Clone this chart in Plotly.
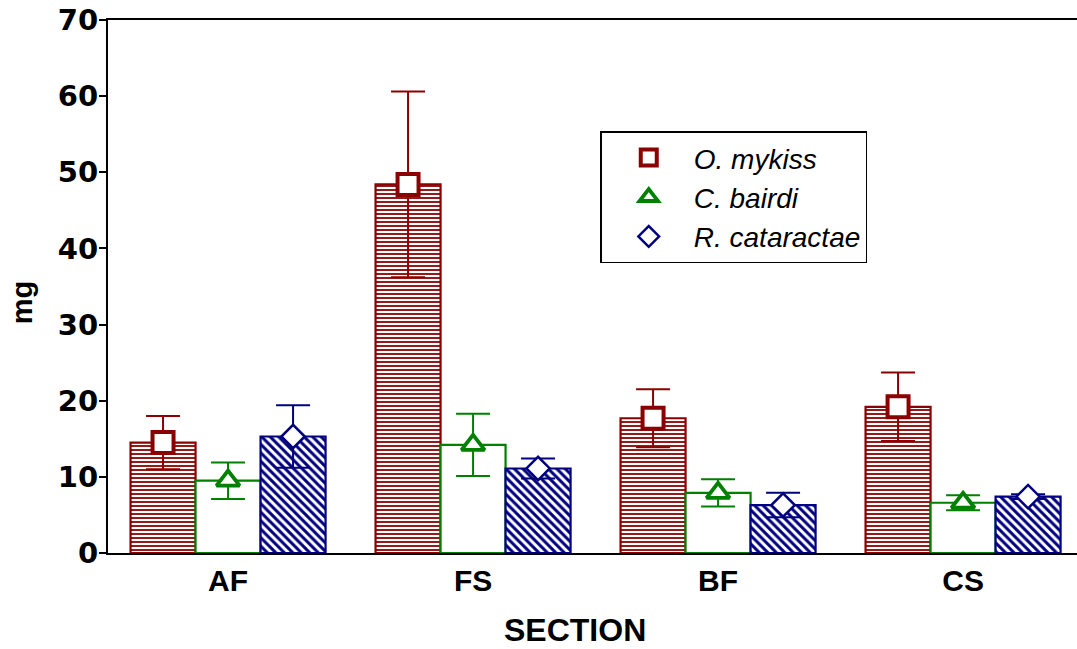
import plotly.graph_objects as go

# Sections along the river and mean mass (mg) per species, with error half-widths
sections = ["AF", "FS", "BF", "CS"]
species = ["O. mykiss", "C. bairdi", "R. cataractae"]

mykiss_mean = [14.5, 48.4, 17.7, 19.2]
mykiss_err = [3.5, 12.2, 3.8, 4.5]
bairdi_mean = [9.5, 14.2, 7.9, 6.6]
bairdi_err = [2.4, 4.1, 1.8, 1.0]
cataractae_mean = [15.3, 11.1, 6.3, 7.4]
cataractae_err = [4.1, 1.3, 1.6, 0.3]

y_ticks = [0, 10, 20, 30, 40, 50, 60, 70]

means = [mykiss_mean, bairdi_mean, cataractae_mean]
errs = [mykiss_err, bairdi_err, cataractae_err]
colors = ["#8b0000", "#008000", "#000080"]
patterns = [
    dict(shape="-", size=4, solidity=0.45),
    dict(shape=""),
    dict(shape="\\", size=6, solidity=0.5),
]
symbols = ["square", "triangle-up", "diamond"]
marker_sizes = [21, 20, 18]
marker_lw = [4, 3.8, 2.5]

BAR_GAP = 0.204
n_series = len(species)
bar_w = (1 - BAR_GAP) / n_series
xs = list(range(len(sections)))

fig = go.Figure()

for i, name in enumerate(species):
    pat = dict(patterns[i], fgcolor=colors[i], bgcolor="white", fgopacity=1)
    fig.add_trace(go.Bar(
        x=xs, y=means[i], name=name, showlegend=False,
        offsetgroup=str(i),
        marker=dict(color="white", line=dict(color=colors[i], width=2.2),
                    pattern=pat),
        hoverinfo="skip",
    ))

for i, name in enumerate(species):
    offs = (i - (n_series - 1) / 2) * bar_w
    fig.add_trace(go.Scatter(
        x=[x + offs for x in xs], y=means[i], name=name, mode="markers",
        marker=dict(symbol=symbols[i], size=marker_sizes[i], color="white",
                    line=dict(color=colors[i], width=marker_lw[i])),
        error_y=dict(type="data", array=errs[i], color=colors[i],
                     thickness=2, width=17, visible=True),
    ))

font_main = "Liberation Sans, Arial, sans-serif"
font_wide = "DejaVu Sans, sans-serif"

fig.update_layout(
    width=1077, height=649,
    margin=dict(l=108, r=0, t=20, b=96),
    plot_bgcolor="white", paper_bgcolor="white",
    barmode="group", bargap=BAR_GAP, bargroupgap=0,
    font=dict(family=font_main, color="black"),
    showlegend=True,
    legend=dict(
        x=0.508, y=0.791, xanchor="left", yanchor="top",
        bgcolor="white", bordercolor="black", borderwidth=1.5,
        font=dict(family=font_main, size=28, style="italic", color="black"),
        itemwidth=80, indentation=2,
    ),
    xaxis=dict(
        range=[-0.49, 3.465],
        tickmode="array", tickvals=xs, ticktext=sections,
        ticks="", showline=True, linecolor="black", linewidth=2,
        mirror=True, showgrid=False, zeroline=False,
        tickfont=dict(family=font_main, size=30, weight="bold"),
    ),
    xaxis2=dict(
        overlaying="x", anchor="y", range=[-0.49, 3.465],
        tickmode="array", tickvals=[x + 0.5 for x in xs[:-1]],
        ticks="inside", ticklen=4, tickwidth=2, tickcolor="black",
        showticklabels=False, showgrid=False, zeroline=False, showline=False,
    ),
    yaxis=dict(
        range=[0, 70], tickmode="array", tickvals=y_ticks,
        ticks="outside", ticklen=7, tickwidth=2, tickcolor="black",
        showline=True, linecolor="black", linewidth=2,
        showgrid=False, zeroline=False, ticklabelstandoff=-5,
        tickfont=dict(family=font_wide, size=29, weight="bold"),
    ),
    annotations=[
        dict(text="SECTION", xref="paper", yref="paper",
             x=0.482, y=-0.145, xanchor="center", yanchor="middle",
             showarrow=False,
             font=dict(family=font_main, size=32, weight="bold", color="black")),
        dict(text="mg", xref="paper", yref="paper",
             x=-0.088, y=0.47, xanchor="center", yanchor="middle",
             textangle=-90, showarrow=False,
             font=dict(family=font_main, size=29, weight="bold", color="black")),
    ],
)

fig.write_html("out.html")
